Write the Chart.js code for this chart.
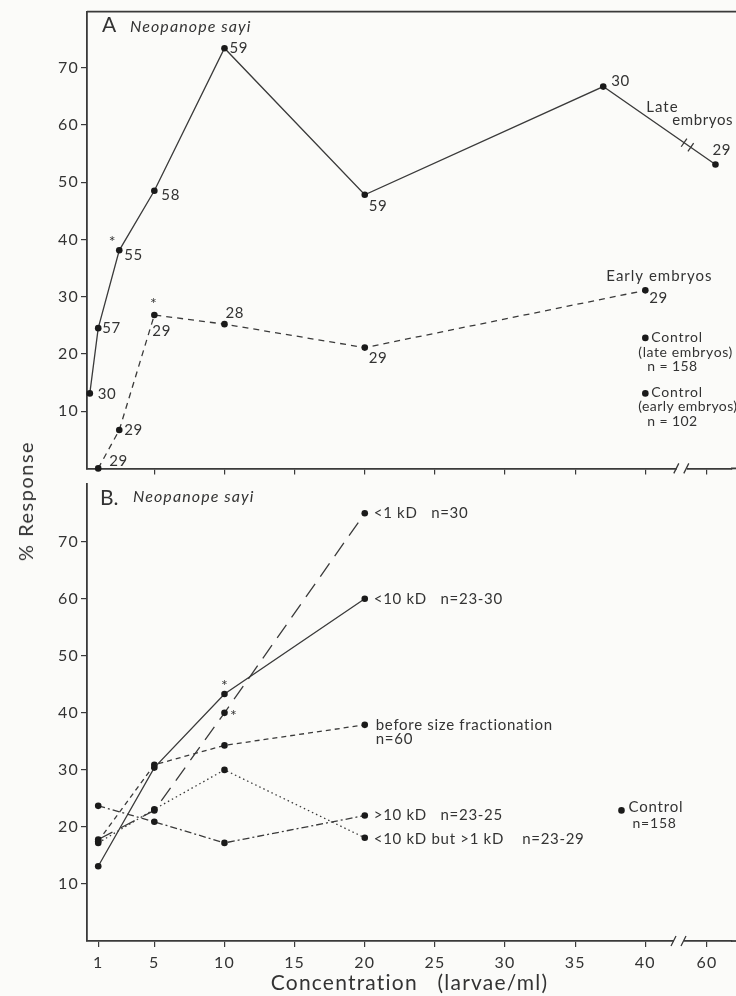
<!DOCTYPE html>
<html><head><meta charset="utf-8">
<script src="https://cdn.jsdelivr.net/npm/chart.js@4/dist/chart.umd.min.js"></script>
<style>
html,body{margin:0;padding:0;background:#fbfbf9;}
#wrap{position:relative;width:736px;height:996px;overflow:hidden;}
#cA{position:absolute;left:0;top:0;}
#cB{position:absolute;left:0;top:472px;}
#ylab{position:absolute;left:25px;top:501px;transform:translate(-50%,-50%) rotate(-90deg);font:20px Lato,"DejaVu Sans",sans-serif;letter-spacing:1.5px;color:#333;white-space:nowrap;}
</style></head><body>
<div id="wrap">
<canvas id="cA" width="736" height="480"></canvas>
<canvas id="cB" width="736" height="524"></canvas>
<div id="ylab">% Response</div>
</div>
<script>
// ---------- data ----------
// Panel A: Neopanope sayi, late and early embryos
const lateConc  = [0.4, 1, 2.5, 5, 10, 20, 37, 61];
const lateResp  = [13.1, 24.5, 38.1, 48.5, 73.4, 47.8, 66.7, 53.1];
const lateN     = ['30', '57', '55', '58', '59', '59', '30', '29'];
const earlyConc = [1, 2.5, 5, 10, 20, 40];
const earlyResp = [0, 6.7, 26.8, 25.2, 21.1, 31.1];
const earlyN    = ['29', '29', '29', '28', '29', '29'];
const controlConcA = [40, 40];
const controlRespA = [22.8, 13.1];   // late, early

// Panel B: size fractions
const concB     = [1, 5, 10, 20];
const lt1kD     = [17.8, 22.9, 40.0, 75.0];
const lt10kD    = [13.1, 30.4, 43.3, 60.0];
const beforeFr  = [17.5, 30.9, 34.3, 37.9];
const gt10kD    = [23.7, 20.9, 17.2, 22.0];
const mid1to10  = [17.2, 23.1, 30.0, 18.1];
const controlConcB = [38.3];
const controlRespB = [22.9];

// tick labels
const xTicksA = [5, 10, 15, 20, 25, 30, 35, 40, 60];
const xTicksB = [1, 5, 10, 15, 20, 25, 30, 35, 40, 60];
const yTicks  = [10, 20, 30, 40, 50, 60, 70];

// ---------- helpers ----------
const FONT = 'Lato, "DejaVu Sans", sans-serif';
const INK = '#333';
const LINE = '#3a3a3a';
const BG = '#fbfbf9';
const PADR = 3;
const XMAX = 0.2 + (736 - PADR - 87) / 14.05;
// axis break: values above 40 are drawn compressed after the break
function axisPos(v){ return v <= 40 ? v : 44.4 + (v - 60) * 0.6; }
function pts(xs, ys){ return xs.map((x, i) => ({x: axisPos(x), y: ys[i]})); }

function txt(ctx, s, x, y, size, opts = {}){
  ctx.save();
  ctx.font = (opts.italic ? 'italic ' : '') + size + 'px ' + FONT;
  ctx.letterSpacing = (opts.ls || 0) + 'px';
  ctx.fillStyle = INK;
  ctx.textAlign = opts.align || 'left';
  ctx.textBaseline = 'middle';
  ctx.fillText(s, x, y);
  ctx.restore();
}
function hline(ctx, x0, x1, yy){
  ctx.save(); ctx.strokeStyle = LINE; ctx.lineWidth = 1.8;
  ctx.beginPath(); ctx.moveTo(x0, yy); ctx.lineTo(x1, yy); ctx.stroke(); ctx.restore();
}
function axisBreak(ctx, xb, yb){
  ctx.save();
  ctx.fillStyle = BG; ctx.fillRect(xb - 5, yb - 2, 10, 4);
  ctx.strokeStyle = LINE; ctx.lineWidth = 1.3;
  ctx.beginPath();
  ctx.moveTo(xb - 8, yb + 5); ctx.lineTo(xb - 3, yb - 5);
  ctx.moveTo(xb + 2, yb + 5); ctx.lineTo(xb + 7, yb - 5);
  ctx.stroke(); ctx.restore();
}

function series(data, dash){
  return {data, showLine: true, borderColor: LINE, borderWidth: 1.3, borderDash: dash,
          pointRadius: 3.3, pointBorderWidth: 0, pointBackgroundColor: '#1a1a1a',
          tension: 0, clip: false, fill: false};
}
function dots(data){
  return {data, showLine: false, pointRadius: 3.3, pointBorderWidth: 0,
          pointBackgroundColor: '#1a1a1a', clip: false};
}

const spacing = {
  id: 'spacing',
  beforeDraw(chart){ chart.ctx.letterSpacing = '1.2px'; },
  beforeDatasetsDraw(chart){ chart.ctx.letterSpacing = '0px'; }
};

function options(ymax, xt, showXLabels, xH, padTop){
  return {
    responsive: false, animation: false,
    layout: {padding: {top: padTop, left: 0, right: PADR, bottom: 0}},
    plugins: {legend: {display: false}, tooltip: {enabled: false}},
    scales: {
      x: {
        type: 'linear', min: 0.2, max: XMAX,
        afterBuildTicks: s => { s.ticks = xt.map(v => ({value: axisPos(v)})); },
        afterFit: s => { s.height = xH; },
        ticks: {display: showXLabels, padding: 6, color: INK, font: {family: FONT, size: 16},
                callback: (v) => { const t = xt.find(q => Math.abs(axisPos(q) - v) < 1e-6); return t === undefined ? '' : String(t); }},
        grid: {drawOnChartArea: false, drawTicks: true, tickLength: 6, color: LINE, lineWidth: 1.2},
        border: {display: true, color: LINE, width: 1.8},
        title: {display: showXLabels, text: 'Concentration   (larvae/ml)', color: INK,
                font: {family: FONT, size: 21}, padding: {top: 0, bottom: 0}}
      },
      y: {
        type: 'linear', min: 0, max: ymax,
        afterBuildTicks: s => { s.ticks = yTicks.map(v => ({value: v})); },
        afterFit: s => { s.width = 87; },
        ticks: {padding: 2, color: INK, font: {family: FONT, size: 16}, callback: v => String(v)},
        grid: {drawOnChartArea: false, drawTicks: true, tickLength: 6, color: LINE, lineWidth: 1.2},
        border: {display: true, color: LINE, width: 1.8}
      }
    }
  };
}

// ---------- Panel A ----------
const annotA = {
  id: 'annotA',
  afterDraw(chart){
    const {ctx, scales: {x, y}, chartArea: ca} = chart;
    const P = (c, r) => [x.getPixelForValue(axisPos(c)), y.getPixelForValue(r)];
    hline(ctx, ca.left, 736, ca.top);
    hline(ctx, ca.right - 1, 736, ca.bottom);
    txt(ctx, 'A', 102, 25, 21);
    txt(ctx, 'Neopanope sayi', 130, 27, 16, {italic: true, ls: 1.1});

    const lateOff = [[8, 1], [4, 0], [5, 5], [7, 4], [5, 0], [4, 11], [8, -5], [-3, -14]];
    lateConc.forEach((c, i) => { const [px, py] = P(c, lateResp[i]);
      txt(ctx, lateN[i], px + lateOff[i][0], py + lateOff[i][1], 15, {ls: 0.6}); });
    const earlyOff = [[11, -7], [5, 0], [-2, 16], [1, -11], [4, 11], [4, 8]];
    earlyConc.forEach((c, i) => { const [px, py] = P(c, earlyResp[i]);
      txt(ctx, earlyN[i], px + earlyOff[i][0], py + earlyOff[i][1], 15, {ls: 0.6}); });
    // significance asterisks
    let [ax, ay] = P(lateConc[2], lateResp[2]); txt(ctx, '*', ax - 7, ay - 8, 16, {align: 'center'});
    [ax, ay] = P(earlyConc[2], earlyResp[2]); txt(ctx, '*', ax - 1, ay - 11, 16, {align: 'center'});

    // series names
    const [lx, ly] = P(lateConc[6], lateResp[6]);
    txt(ctx, 'Late', lx + 43, ly + 21, 15, {ls: 1});
    txt(ctx, 'embryos', lx + 69, ly + 34, 15, {ls: 0.6});
    const [ex, ey] = P(earlyConc[5], earlyResp[5]);
    txt(ctx, 'Early embryos', ex - 39, ey - 14, 15, {ls: 1});

    // controls
    const [c1x, c1y] = P(controlConcA[0], controlRespA[0]);
    txt(ctx, 'Control', c1x + 6, c1y, 14, {ls: 0.8});
    txt(ctx, '(late embryos)', c1x - 7, c1y + 15, 14, {ls: 0.6});
    txt(ctx, 'n = 158', c1x + 2, c1y + 29, 14, {ls: 0.4});
    const [c2x, c2y] = P(controlConcA[1], controlRespA[1]);
    txt(ctx, 'Control', c2x + 6, c2y - 1, 14, {ls: 0.8});
    txt(ctx, '(early embryos)', c2x - 7, c2y + 13, 14, {ls: 0.4});
    txt(ctx, 'n = 102', c2x + 2, c2y + 28, 14, {ls: 0.4});

    // break marks on late-embryo line
    const [p6x, p6y] = P(lateConc[6], lateResp[6]);
    const [p7x, p7y] = P(lateConc[7], lateResp[7]);
    const dx = p7x - p6x, dy = p7y - p6y, L = Math.hypot(dx, dy);
    const nx = -dy / L, ny = dx / L;
    ctx.save(); ctx.strokeStyle = LINE; ctx.lineWidth = 1.3; ctx.beginPath();
    [0.72, 0.78].forEach(t => { const mx = p6x + dx * t, my = p6y + dy * t;
      ctx.moveTo(mx - nx * 5, my - ny * 5); ctx.lineTo(mx + nx * 5, my + ny * 5); });
    ctx.stroke(); ctx.restore();

    axisBreak(ctx, x.getPixelForValue(42.6), ca.bottom);
  }
};

new Chart(document.getElementById('cA'), {
  type: 'scatter',
  data: {datasets: [
    series(pts(lateConc, lateResp), []),
    series(pts(earlyConc, earlyResp), [6, 5]),
    dots(pts(controlConcA, controlRespA))
  ]},
  options: options(79.8, xTicksA, false, 8, 7),
  plugins: [spacing, annotA]
});

// ---------- Panel B ----------
const annotB = {
  id: 'annotB',
  afterDraw(chart){
    const {ctx, scales: {x, y}, chartArea: ca} = chart;
    const P = (c, r) => [x.getPixelForValue(axisPos(c)), y.getPixelForValue(r)];
    hline(ctx, ca.right - 1, 736, ca.bottom);
    txt(ctx, 'B.', 100, 26, 21);
    txt(ctx, 'Neopanope sayi', 133, 25, 16, {italic: true, ls: 1.1});
    const last = concB.length - 1;
    const o = {ls: 0.7};
    let [px, py] = P(concB[last], lt1kD[last]);   txt(ctx, '<1 kD   n=30', px + 9, py, 15, o);
    [px, py] = P(concB[last], lt10kD[last]);      txt(ctx, '<10 kD   n=23-30', px + 9, py, 15, o);
    [px, py] = P(concB[last], beforeFr[last]);    txt(ctx, 'before size fractionation', px + 11, py, 15, o);
    txt(ctx, 'n=60', px + 11, py + 14, 15, o);
    [px, py] = P(concB[last], gt10kD[last]);      txt(ctx, '>10 kD   n=23-25', px + 9, py, 15, o);
    [px, py] = P(concB[last], mid1to10[last]);    txt(ctx, '<10 kD but >1 kD    n=23-29', px + 9, py + 1, 15, o);
    [px, py] = P(concB[2], lt10kD[2]);            txt(ctx, '*', px, py - 8, 16, {align: 'center'});
    [px, py] = P(concB[2], lt1kD[2]);             txt(ctx, '*', px + 9, py + 3, 16, {align: 'center'});
    [px, py] = P(controlConcB[0], controlRespB[0]);
    txt(ctx, 'Control', px + 7, py - 3, 15, {ls: 0.8});
    txt(ctx, 'n=158', px + 11, py + 13, 14, {ls: 0.8});
    axisBreak(ctx, x.getPixelForValue(42.4), ca.bottom);
  }
};

new Chart(document.getElementById('cB'), {
  type: 'scatter',
  data: {datasets: [
    series(pts(concB, lt1kD), [16, 9]),
    series(pts(concB, lt10kD), []),
    series(pts(concB, beforeFr), [5, 4]),
    series(pts(concB, gt10kD), [7, 3, 2, 3]),
    series(pts(concB, mid1to10), [1.5, 3]),
    dots(pts(controlConcB, controlRespB))
  ]},
  options: options(80.2, xTicksB, true, 55, 0),
  plugins: [spacing, annotB]
});
</script>
</body></html>
